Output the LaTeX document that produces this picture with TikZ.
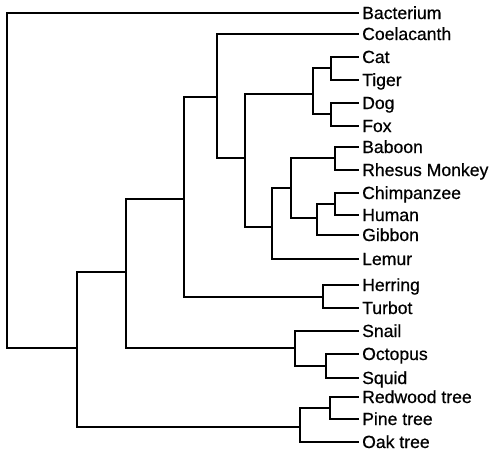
\documentclass[tikz,border=0pt]{standalone}
\usepackage{fontspec}
\setmainfont{Liberation Sans}
\newfontfamily\leaffont[FakeBold=0.6]{Liberation Sans}
\begin{document}
\begin{tikzpicture}[x=1pt,y=-1pt,
  branch/.style={line width=2pt, line cap=rect, line join=miter},
  leaflabel/.style={anchor=base west, inner sep=0pt, font=\leaffont\fontsize{17.6}{17.6}\selectfont}]
\useasboundingbox (0,0) rectangle (493,451);
% leaves
\foreach \n/\y/\t in {bact/13/Bacterium, coel/34/Coelacanth, cat/57/Cat, tiger/80/Tiger,
  dog/103/Dog, fox/126/Fox, bab/147/Baboon, rhes/170/Rhesus Monkey, chimp/193/Chimpanzee,
  hum/215/Human, gib/235/Gibbon, lemur/259/Lemur, herr/285/Herring, turb/308/Turbot,
  snail/331/Snail, oct/354/Octopus, squid/378/Squid, red/397/Redwood tree,
  pine/419/Pine tree, oak/442/Oak tree}{
  \coordinate (l\n) at (358,\y);
  \node[leaflabel] (t\n) at ([xshift=4pt,yshift=-6pt]l\n) {\t};
}
% internal nodes
\foreach \n/\x/\y in {root/7/13, A/77/348, B/126/272, C/184/199, D/217/97, M/245/158,
  Carn/313/94, CT/331/68, DF/331/114, Prim/272/227, Anth/291/188, BR/335/158,
  Ape/317/218, CH/335/204, HT/323/297, Mol/295/348, OS/326/366, P/300/427, RP/330/408}{
  \coordinate (\n) at (\x,\y);
}
% branches
\foreach \a/\b in {root/lbact, root/A, A/B, A/P, B/C, B/Mol, C/D, C/HT, D/lcoel, D/M,
  M/Carn, M/Prim, Carn/CT, Carn/DF, CT/lcat, CT/ltiger, DF/ldog, DF/lfox,
  Prim/Anth, Prim/llemur, Anth/BR, Anth/Ape, BR/lbab, BR/lrhes, Ape/CH, Ape/lgib,
  CH/lchimp, CH/lhum, HT/lherr, HT/lturb, Mol/lsnail, Mol/OS, OS/loct, OS/lsquid,
  P/RP, P/loak, RP/lred, RP/lpine}{
  \draw[branch] (\a) |- (\b);
}
\end{tikzpicture}
\end{document}
